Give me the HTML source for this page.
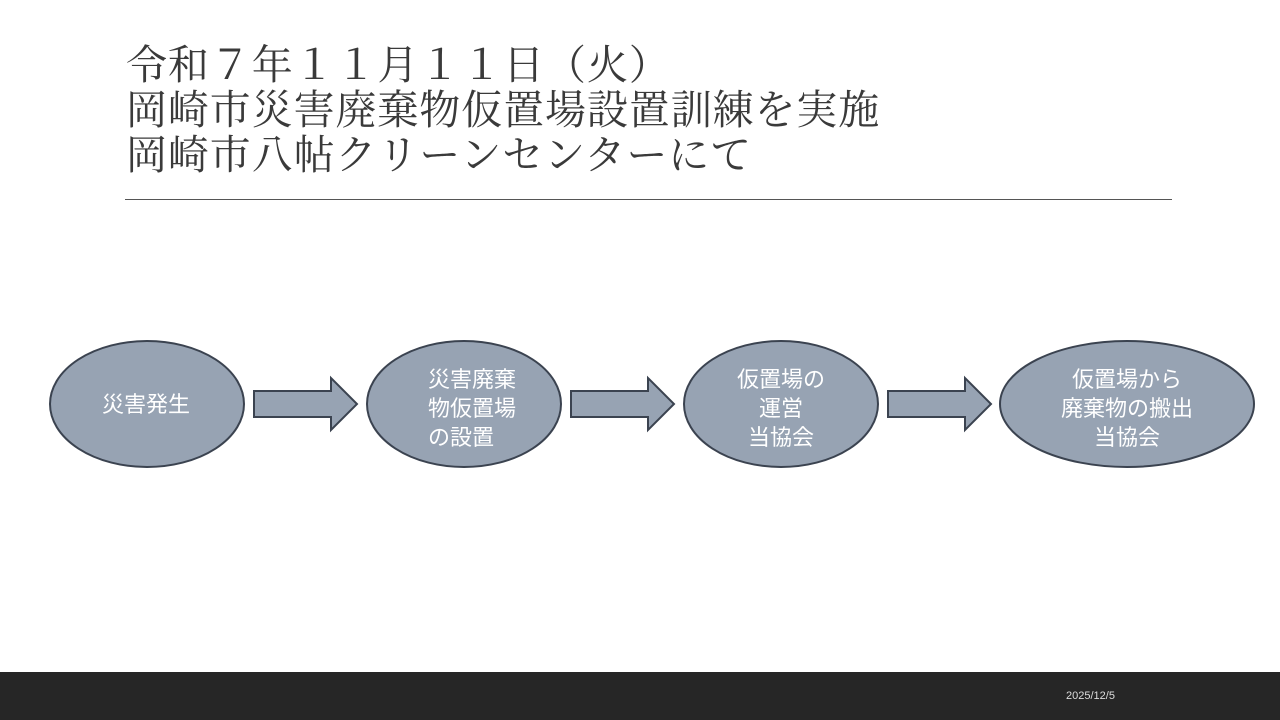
<!DOCTYPE html>
<html><head><meta charset="utf-8"><style>
body{margin:0;width:1280px;height:720px;background:#fff;position:relative;overflow:hidden;font-family:"Liberation Sans","Noto Sans CJK JP",sans-serif}
.t{position:absolute;left:126px;top:43px;font-family:"Liberation Serif","Noto Serif CJK JP",serif;font-size:41px;letter-spacing:0.9px;line-height:45px;color:#3a3a3a;white-space:nowrap}
.hr{position:absolute;left:125px;top:199px;width:1047px;height:1px;background:#555}
.foot{position:absolute;left:0;top:672px;width:1280px;height:48px;background:#262626}
.date{position:absolute;left:1066px;top:690px;color:#ddd;font-size:11px}
</style></head><body>
<div class="t">令和７年１１月１１日（火）<br>岡崎市災害廃棄物仮置場設置訓練を実施<br>岡崎市八帖クリーンセンターにて</div>
<div class="hr"></div>
<svg width="1280" height="720" style="position:absolute;left:0;top:0" font-family="Liberation Sans, Noto Sans CJK JP, sans-serif">
<g fill="#97a3b3" stroke="#3b4350" stroke-width="2">
<ellipse cx="147" cy="404" rx="97" ry="63"/>
<ellipse cx="464" cy="404" rx="97" ry="63"/>
<ellipse cx="781" cy="404" rx="97" ry="63"/>
<ellipse cx="1127" cy="404" rx="127" ry="63"/>
<path d="M254 391H331V378L357 404L331 430V417H254Z"/>
<path d="M571 391H648V378L674 404L648 430V417H571Z"/>
<path d="M888 391H965V378L991 404L965 430V417H888Z"/>
</g>
<g fill="#fff" font-size="22" text-anchor="middle">
<text x="146" y="412">災害発生</text>
<text x="472" y="387">災害廃棄</text>
<text x="472" y="416">物仮置場</text>
<text x="461" y="445">の設置</text>
<text x="781" y="387">仮置場の</text>
<text x="781" y="416">運営</text>
<text x="781" y="445">当協会</text>
<text x="1127" y="387">仮置場から</text>
<text x="1127" y="416">廃棄物の搬出</text>
<text x="1127" y="445">当協会</text>
</g>
</svg>
<div class="foot"></div>
<div class="date">2025/12/5</div>
</body></html>
